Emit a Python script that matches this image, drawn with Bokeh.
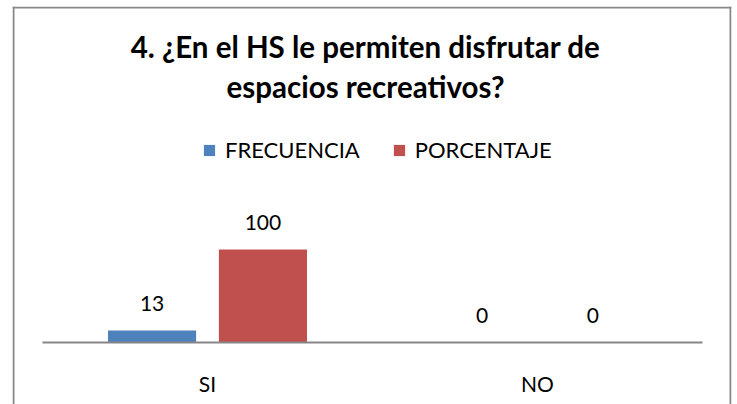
from bokeh.plotting import figure
from bokeh.models import (Range1d, Label, Legend, LegendItem, ColumnDataSource,
                          Span, FixedTicker)
from bokeh.transform import dodge
from bokeh.core.properties import value
from bokeh.embed import file_html
from bokeh.resources import INLINE

categories = ["SI", "NO"]
frecuencia = [13, 0]
porcentaje = [100, 0]
series_names = ["FRECUENCIA", "PORCENTAJE"]
title_lines = ["4. ¿En el HS le permiten disfrutar de", "espacios recreativos?"]

FONT = "Lato"
BLUE = "#4F81BD"
RED = "#C0504D"
BORDER = "#878787"

centers = [i + 0.5 for i in range(len(categories))]
src = ColumnDataSource(dict(
    x=centers,
    f=frecuencia,
    p=porcentaje,
    fl=[str(v) for v in frecuencia],
    pl=[str(v) for v in porcentaje],
))

# frame: page x 12..731, y 6..404 ; categories span page x 42..702 ; y=0 at page y 342
PX_X = 330.0
PX_Y = 0.93
x_start = -(42 - 12) / PX_X
x_end = len(categories) + (731 - 702) / PX_X
y_start = -(404 - 342) / PX_Y
y_end = (342 - 6) / PX_Y

p = figure(
    x_range=Range1d(x_start, x_end),
    y_range=Range1d(y_start, y_end),
    width=732, height=404,
    output_backend="svg", toolbar_location=None,
    min_border_left=12, min_border_right=1, min_border_top=6, min_border_bottom=0,
)
p.outline_line_color = None
p.xgrid.grid_line_color = None
p.ygrid.grid_line_color = None
p.yaxis.visible = False

xa = p.xaxis[0]
xa.fixed_location = 0
xa.bounds = (0, len(categories))
xa.ticker = FixedTicker(ticks=centers)
xa.major_label_overrides = {c: lab for c, lab in zip(centers, categories)}
xa.axis_line_color = "#868686"
xa.axis_line_width = 2
xa.major_tick_line_color = None
xa.minor_tick_line_color = None
xa.major_label_text_font = FONT
xa.major_label_text_font_size = "21px"
xa.major_label_text_color = "#000000"
xa.major_label_standoff = 22

r1 = p.vbar(x=dodge("x", -0.168), top="f", width=0.267,
            source=src, fill_color=BLUE, line_color=None)
r2 = p.vbar(x=dodge("x", 0.168), top="p", width=0.267,
            source=src, fill_color=RED, line_color=None)

for col, lab, off in (("f", "fl", -0.168), ("p", "pl", 0.168)):
    p.text(x=dodge("x", off), y=col, text=lab, source=src,
           text_align="center", text_baseline="alphabetic", y_offset=-27,
           text_font=value(FONT), text_font_size="21px", text_color="#000000")

for txt, yy in zip(title_lines, (358, 318)):
    p.add_layout(Label(x=353, y=yy, x_units="screen", y_units="screen", text=txt,
                       text_align="center", text_baseline="alphabetic",
                       text_font=FONT, text_font_size="29.5px", text_font_style="bold",
                       text_color="#000000"))

legend = Legend(items=[LegendItem(label=series_names[0], renderers=[r1]),
                       LegendItem(label=series_names[1], renderers=[r2])],
                location=(190, 241), orientation="horizontal")
legend.padding = 0
legend.margin = 0
legend.spacing = 32
legend.border_line_color = None
legend.background_fill_alpha = 0
legend.glyph_width = 14
legend.glyph_height = 14
legend.label_standoff = 9
legend.label_text_font = FONT
legend.label_text_font_size = "22px"
legend.label_text_color = "#000000"
p.add_layout(legend, "center")

# chart border (left, right, top)
p.add_layout(Span(location=1, location_units="screen", dimension="height",
                  line_color=BORDER, line_width=2))
p.add_layout(Span(location=718, location_units="screen", dimension="height",
                  line_color=BORDER, line_width=2))
p.add_layout(Span(location=397, location_units="screen", dimension="width",
                  line_color=BORDER, line_width=2))

open("out.html", "w").write(file_html(p, INLINE))
